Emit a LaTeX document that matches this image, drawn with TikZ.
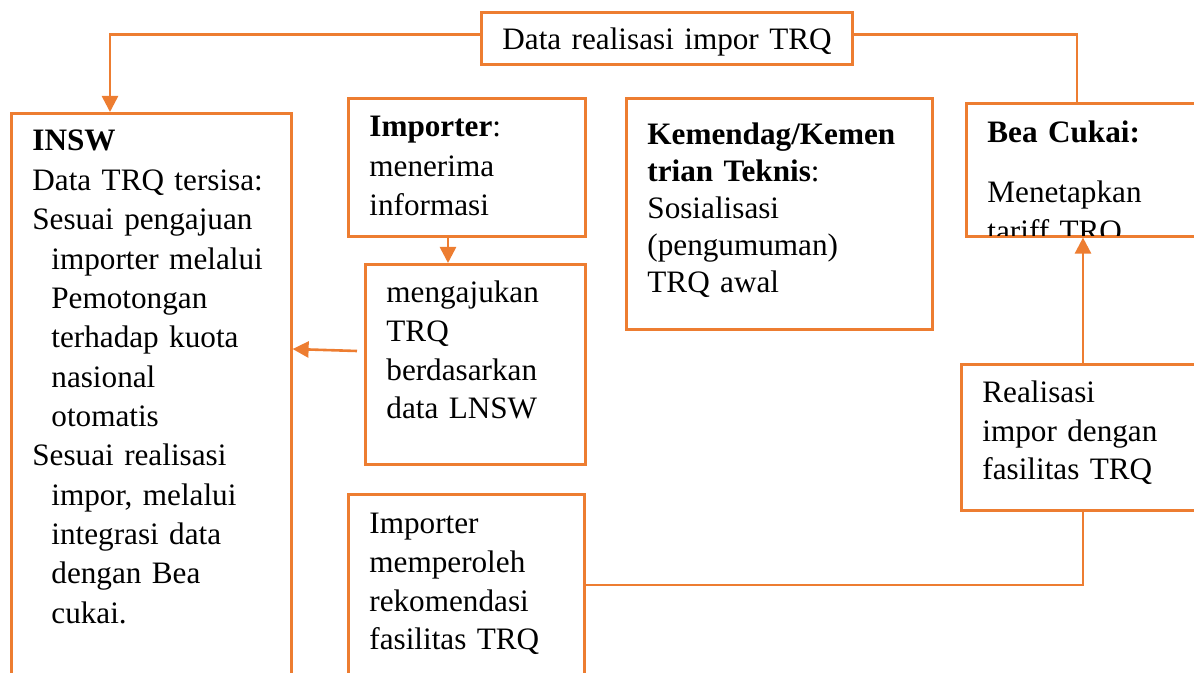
\documentclass[tikz,border=0pt]{standalone}
\usepackage{fontspec}
\setmainfont{Liberation Serif}
\usetikzlibrary{arrows.meta,calc}
\definecolor{org}{HTML}{ED7D31}
\begin{document}
\begin{tikzpicture}[x=0.5pt,y=-0.5pt,
  box/.style={draw=org,line width=1.3pt,inner sep=0pt,anchor=north west},
  txt/.style={anchor=base west,inner sep=0pt,text width=12cm,align=left},
  conn/.style={draw=org,line width=1.3pt},
  arr/.style={conn,-{Triangle[length=8pt,width=8pt]}}]
\useasboundingbox (0,0) rectangle (1194,673);
\clip (0,0) rectangle (1194,673);
% boxes
\node[box,minimum width=185.5pt,minimum height=26pt] (top) at (480,11) {};
\node[box,minimum width=140pt,minimum height=294pt] (insw) at (10,112) {};
\node[box,minimum width=118.5pt,minimum height=69pt] (imp) at (347,97) {};
\node[box,minimum width=110pt,minimum height=100pt] (meng) at (364,263) {};
\node[box,minimum width=153pt,minimum height=115.5pt] (kem) at (625,97) {};
\node[box,minimum width=122.5pt,minimum height=66.5pt] (bea) at (965,102) {};
\node[box,minimum width=125pt,minimum height=73pt] (real) at (960,363) {};
\node[box,minimum width=118pt,minimum height=103.5pt] (memp) at (347,493) {};
% texts
\node[txt,font=\fontsize{15.6}{19.6}\selectfont] (topt) at (502,50) {Data realisasi impor TRQ};
\node[txt,font=\fontsize{15.6}{19.67}\selectfont] (inswt) at (32,151) {\textbf{INSW}\\
Data TRQ tersisa:\\
Sesuai pengajuan\\
\hspace*{9.5pt}importer melalui\\
\hspace*{9.5pt}Pemotongan\\
\hspace*{9.5pt}terhadap kuota\\
\hspace*{9.5pt}nasional\\
\hspace*{9.5pt}otomatis\\
Sesuai realisasi\\
\hspace*{9.5pt}impor, melalui\\
\hspace*{9.5pt}integrasi data\\
\hspace*{9.5pt}dengan Bea\\
\hspace*{9.5pt}cukai.};
\node[txt,font=\fontsize{15.6}{19.75}\selectfont] (impt) at (369,137) {\textbf{Importer}:\\menerima\\informasi};
\node[txt,font=\fontsize{15.6}{19.3}\selectfont] (mengt) at (386,303) {mengajukan\\TRQ\\berdasarkan\\data LNSW};
\node[txt,font=\fontsize{15.6}{18.5}\selectfont] (kemt) at (647,145) {\textbf{Kemendag/Kemen}\\\textbf{trian Teknis}:\\Sosialisasi\\(pengumuman)\\TRQ awal};
\begin{scope}
\clip ($(bea.south west)+(0,-2)$) rectangle (bea.north east);
\node[txt,font=\fontsize{15.6}{19.5}\selectfont] (beat) at (987,143) {\textbf{Bea Cukai:}\\[10.5pt]Menetapkan\\tariff TRQ};
\end{scope}
\node[txt,font=\fontsize{15.6}{19.25}\selectfont] (realt) at (982,403) {Realisasi\\impor dengan\\fasilitas TRQ};
\node[txt,font=\fontsize{15.6}{19.5}\selectfont] (mempt) at (369,533) {Importer\\memperoleh\\rekomendasi\\fasilitas TRQ};
% connectors
\draw[arr] ($(top.west)+(0,-4)$) -| ($(insw.north west)+(100,0)$);
\draw[conn] ($(top.east)+(0,-4)$) -| ($(bea.north west)+(112,0)$);
\draw[arr] ($(imp.south west)+(101,0)$) -- ($(meng.north west)+(84,0)$);
\draw[arr] ($(meng.north west)+(-7,88)$) -- ($(insw.north east)+(0,237)$);
\draw[arr] ($(real.north west)+(123,0)$) -- ($(bea.south west)+(118,0)$);
\draw[conn] ($(real.south west)+(123,0)$) |- ($(memp.north east)+(0,92)$);
\end{tikzpicture}
\end{document}
